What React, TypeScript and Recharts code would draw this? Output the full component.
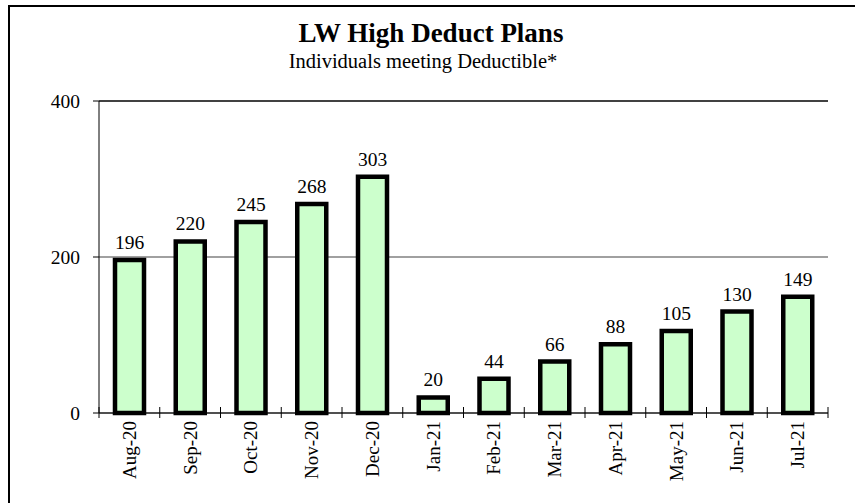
import { BarChart, Bar, XAxis, YAxis, CartesianGrid, ReferenceLine, LabelList } from 'recharts';

const months = ['Aug-20', 'Sep-20', 'Oct-20', 'Nov-20', 'Dec-20', 'Jan-21', 'Feb-21', 'Mar-21', 'Apr-21', 'May-21', 'Jun-21', 'Jul-21'];
const individuals = [196, 220, 245, 268, 303, 20, 44, 66, 88, 105, 130, 149];
const yTicks = [0, 200, 400];

const chartData = months.map((m, i) => ({ month: m, value: individuals[i] }));

const FONT = '"Liberation Serif", "Times New Roman", serif';
// half of one category band, used to put tick marks between the bars
const HALF_BAND = (828 - 99) / months.length / 2;

function MonthTick(props: any) {
  const { x, y, payload } = props;
  const index = payload?.index ?? props.index ?? 0;
  const isLast = index === months.length - 1;
  return (
    <g>
      <line x1={x - HALF_BAND} x2={x - HALF_BAND} y1={y - 6} y2={y + 5} stroke="#000" strokeWidth={1} />
      {isLast && (
        <line x1={x + HALF_BAND} x2={x + HALF_BAND} y1={y - 6} y2={y + 5} stroke="#000" strokeWidth={1} />
      )}
      <text
        x={x}
        y={y + 8}
        transform={`rotate(-90, ${x}, ${y + 8})`}
        textAnchor="end"
        dominantBaseline="central"
        fontFamily={FONT}
        fontSize={19}
        fill="#000"
      >
        {payload.value}
      </text>
    </g>
  );
}

export default function App() {
  return (
    <div style={{ position: 'absolute', left: 0, top: 0, width: 855, height: 503, background: '#fff' }}>
      <BarChart
        width={855}
        height={503}
        data={chartData}
        margin={{ top: 101, right: 27, bottom: 0, left: 39 }}
        barCategoryGap={0}
      >
        <CartesianGrid vertical={false} stroke="#808080" strokeWidth={1.5} />
        <ReferenceLine y={400} stroke="#222" strokeWidth={1.5} />
        <XAxis
          dataKey="month"
          height={90}
          interval={0}
          tickLine={false}
          tickSize={0}
          tickMargin={0}
          axisLine={{ stroke: '#000', strokeWidth: 1 }}
          tick={(p: any) => <MonthTick {...p} />}
        />
        <YAxis
          width={60}
          domain={[0, 400]}
          ticks={yTicks}
          tickSize={6}
          tickMargin={13}
          axisLine={{ stroke: '#000', strokeWidth: 1 }}
          tickLine={{ stroke: '#000', strokeWidth: 1 }}
          tick={{ fill: '#000', fontSize: 19.5, fontFamily: FONT }}
        />
        <Bar dataKey="value" fill="#ccffcc" stroke="#000" strokeWidth={4.5} barSize={29} isAnimationActive={false}>
          <LabelList dataKey="value" position="top" offset={11} fill="#000" fontSize={19.5} fontFamily={FONT} />
        </Bar>
      </BarChart>
      <svg width={855} height={503} style={{ position: 'absolute', left: 0, top: 0, pointerEvents: 'none' }}>
        <rect x={9} y={6} width={900} height={600} fill="none" stroke="#000" strokeWidth={2} />
        <text x={431} y={42} textAnchor="middle" fontFamily={FONT} fontSize={27} fontWeight="bold" fill="#000">
          LW High Deduct Plans
        </text>
        <text x={423} y={68} textAnchor="middle" fontFamily={FONT} fontSize={20.5} fill="#000">
          Individuals meeting Deductible*
        </text>
      </svg>
    </div>
  );
}
